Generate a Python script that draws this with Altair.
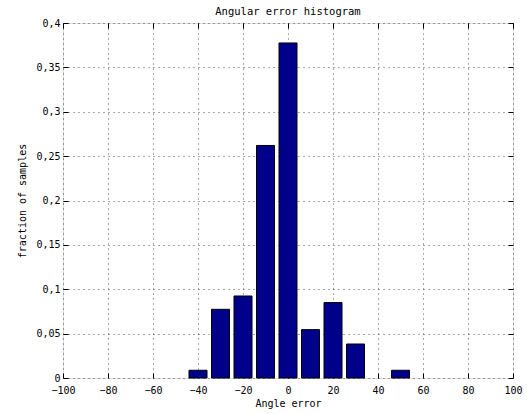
import altair as alt
import pandas as pd

centers = [-40, -30, -20, -10, 0, 10, 20, 30, 50]
fractions = [0.0087, 0.0774, 0.0924, 0.262, 0.3775, 0.0545, 0.085, 0.0383, 0.0087]
bar_width = 8
x_ticks = [-100, -80, -60, -40, -20, 0, 20, 40, 60, 80, 100]
y_ticks = [0, 0.05, 0.1, 0.15, 0.2, 0.25, 0.3, 0.35, 0.4]

df = pd.DataFrame({"center": centers, "frac": fractions})

FONT = "DejaVu Sans Mono"
xs = alt.Scale(domain=[-100, 100], nice=False, zero=False)
ys = alt.Scale(domain=[0, 0.4], nice=False, zero=True)

common = dict(domain=False, tickColor="black", tickSize=5, labelFont=FONT,
              labelFontSize=10, labelColor="black", titleFont=FONT,
              titleFontSize=10, titleFontWeight="normal", titleColor="black")

x_bottom = alt.Axis(values=x_ticks, title="Angle error", offset=-5, labelPadding=7,
                    grid=True, gridDash=[1, 4], gridColor="#333", gridOpacity=0.85,
                    titlePadding=3, labelFlush=False, **common)
y_left = alt.Axis(values=y_ticks, title="fraction of samples", offset=-5, labelPadding=3,
                  grid=True, gridDash=[1, 4], gridColor="#333", gridOpacity=0.85,
                  titlePadding=8,
                  labelExpr="replace(format(datum.value, '.2~f'), '.', ',')",
                  labelFlush=False, **common)
x_top = alt.Axis(values=x_ticks, title=None, orient="top", offset=-5, labels=False,
                 grid=False, **common)
y_right = alt.Axis(values=y_ticks, title=None, orient="right", offset=-5, labels=False,
                   grid=False, **common)

base = alt.Chart(df).transform_calculate(
    lo=f"datum.center - {bar_width}/2", hi=f"datum.center + {bar_width}/2"
)

bars = base.mark_bar(color="#00008b", stroke="black", strokeWidth=1).encode(
    x=alt.X("lo:Q", scale=xs, axis=x_bottom),
    x2="hi:Q",
    y=alt.Y("frac:Q", scale=ys, axis=y_left),
    y2=alt.datum(0),
)

frame = base.mark_point(opacity=0).encode(
    x=alt.X("center:Q", scale=xs, axis=x_top),
    y=alt.Y("frac:Q", scale=ys, axis=y_right),
)

chart = (
    alt.layer(frame, bars)
    .resolve_axis(x="independent", y="independent")
    .properties(
        width=450, height=355,
        title=alt.TitleParams("Angular error histogram", font=FONT, fontSize=10.5,
                              fontWeight="normal", color="black", offset=1),
        autosize=alt.AutoSizeParams(type="none"),
        padding={"left": 63, "top": 23, "right": 14, "bottom": 36},
    )
    .configure_view(stroke="black", strokeWidth=1)
    .configure(background="white")
)

chart.save("out.html", embed_options={"renderer": "svg", "actions": False})
